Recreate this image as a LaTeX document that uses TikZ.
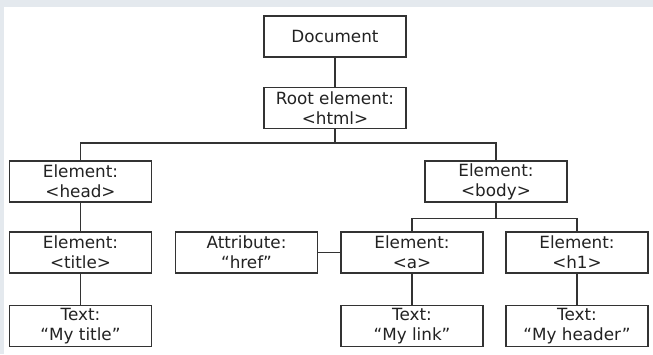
\documentclass[tikz,border=0pt]{standalone}
\usepackage{fontspec}
\setmainfont{DejaVu Sans}
\definecolor{bggray}{HTML}{E4E9EE}
\definecolor{linegray}{HTML}{333333}
\definecolor{txtgray}{HTML}{222222}
\begin{document}
\begin{tikzpicture}[x=1pt,y=-1pt,
  dombox/.style={draw=linegray, line width=1.2pt, minimum width=142pt, minimum height=41pt,
    inner sep=0pt, align=center, text=txtgray, font=\fontsize{16.8}{20}\selectfont},
  link/.style={draw=linegray, line width=1.2pt}]
\fill[bggray] (0,0) rectangle (653,354);
\fill[white] (4,7) rectangle (653,354);
\useasboundingbox (0,0) rectangle (653,354);
\node[dombox] (doc) at (335,36.5) {Document};
\node[dombox] (root) at (335,108) {Root element:\\<html>};
\node[dombox] (head) at (80.5,181.5) {Element:\\<head>};
\node[dombox] (body) at (496,181.5) {Element:\\<body>};
\node[dombox] (title) at (80.5,252.5) {Element:\\<title>};
\node[dombox] (attr) at (246.5,252.5) {Attribute:\\“href”};
\node[dombox] (a) at (412,252.5) {Element:\\<a>};
\node[dombox] (h1) at (577,252.5) {Element:\\<h1>};
\node[dombox] (ttitle) at (80.5,326) {Text:\\“My title”};
\node[dombox] (tlink) at (412,326) {Text:\\“My link”};
\node[dombox] (theader) at (577,326) {Text:\\“My header”};
\coordinate (j1) at (335,143);
\coordinate (j2) at (496,218.5);
\draw[link] (doc) -- (root);
\draw[link] (root) -- (j1);
\draw[link] (head.north) |- (j1) -| (body.north);
\draw[link] (body) -- (j2);
\draw[link] (a.north) |- (j2) -| (h1.north);
\draw[link] (head) -- (title);
\draw[link] (title) -- (ttitle);
\draw[link] (a) -- (tlink);
\draw[link] (h1) -- (theader);
\draw[link] (attr) -- (a);
\end{tikzpicture}
\end{document}
